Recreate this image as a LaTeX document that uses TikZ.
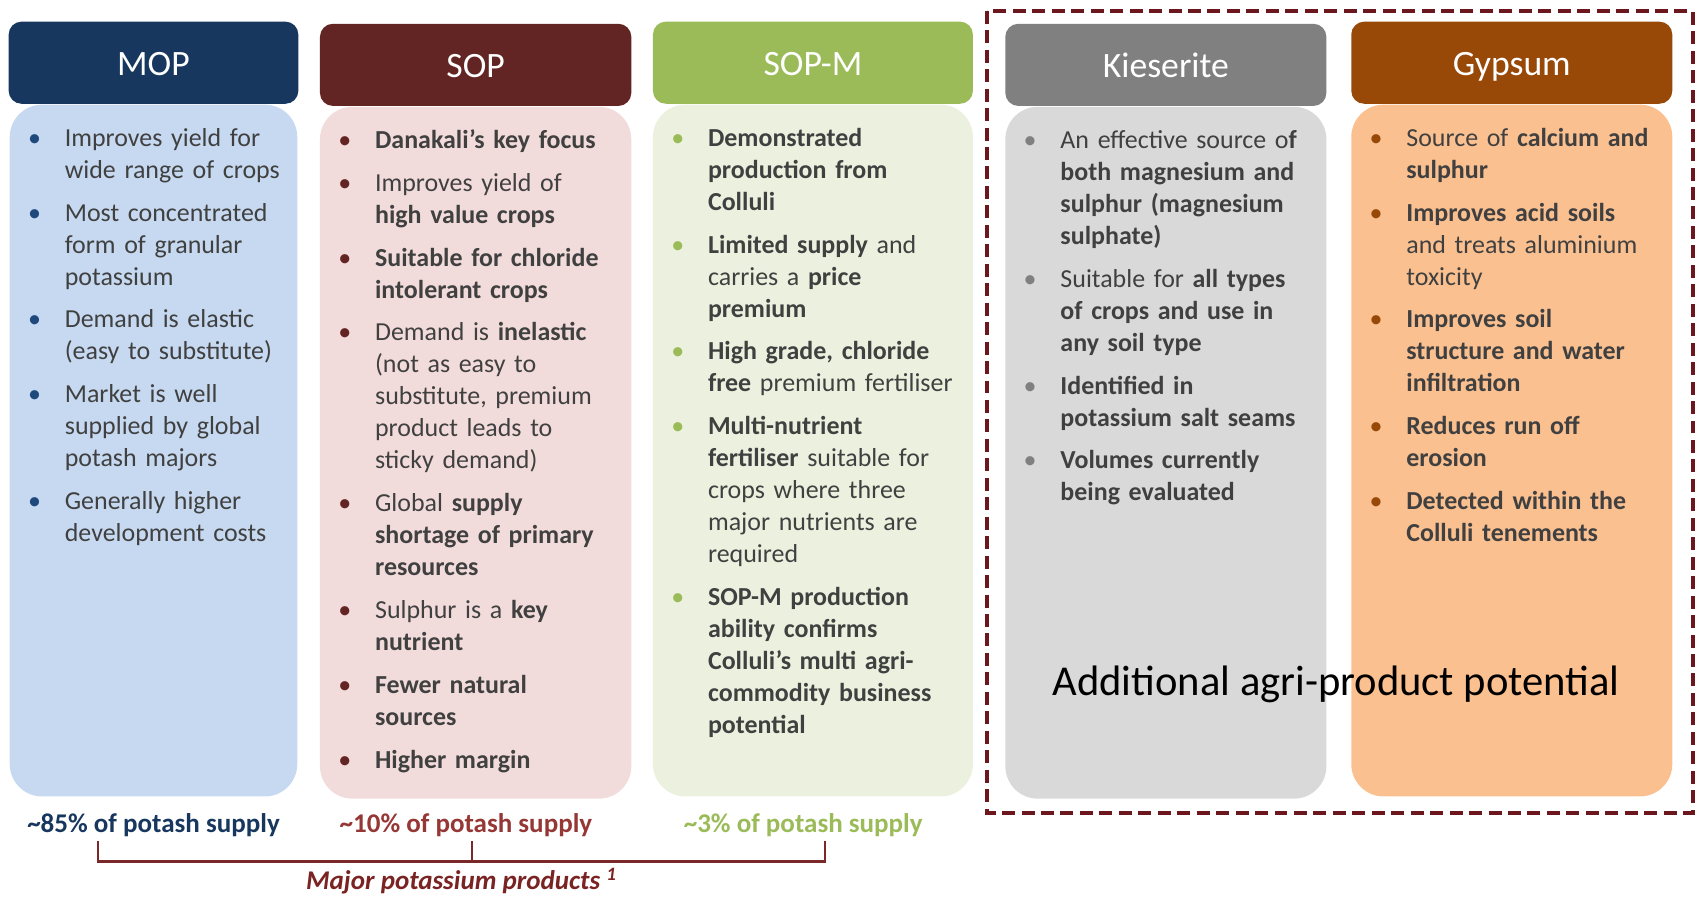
\documentclass[tikz,border=0pt]{standalone}
\usepackage{fontspec}
\setmainfont{Carlito}
\usepackage{enumitem}
\usetikzlibrary{calc, positioning}

\definecolor{mopdark}{RGB}{24,55,94}
\definecolor{moplight}{RGB}{198,217,240}
\definecolor{mopbul}{RGB}{31,73,125}
\definecolor{sopdark}{RGB}{99,37,35}
\definecolor{soplight}{RGB}{242,220,219}
\definecolor{sopsup}{RGB}{149,55,53}
\definecolor{sopmdark}{RGB}{155,187,89}
\definecolor{sopmlight}{RGB}{235,241,222}
\definecolor{kiesdark}{RGB}{128,128,128}
\definecolor{kieslight}{RGB}{217,217,217}
\definecolor{gypdark}{RGB}{152,72,7}
\definecolor{gyplight}{RGB}{250,192,144}
\definecolor{txtgray}{RGB}{64,64,64}
\definecolor{brk}{RGB}{123,40,40}
\definecolor{majcol}{RGB}{122,35,35}
\definecolor{dashcol}{RGB}{108,22,30}
\colorlet{bcol}{black}

\setlist[itemize]{topsep=0pt, partopsep=0pt, parsep=0pt, itemsep=5pt, leftmargin=14pt, labelindent=0pt, labelwidth=0pt, labelsep=14pt, align=left, label=\hbox to 0pt{\hss\textcolor{bcol}{\textbullet}\hss}}

\begin{document}
\begin{tikzpicture}[x=0.5pt, y=-0.5pt]
    \tikzstyle{hdr} = [rectangle, rounded corners=6pt, minimum height=38pt, inner sep=0pt, text=white, text height=14pt, text depth=2pt, font=\fontsize{16.5}{20}\selectfont]
    \tikzstyle{body} = [rectangle, rounded corners=15pt, minimum height=320pt, inner sep=0pt, anchor=north]
    \tikzstyle{txt} = [anchor=north west, text width=160pt, align=left, inner sep=0pt, text=txtgray, font=\fontsize{12}{14.8}\selectfont]
    \tikzstyle{supply} = [anchor=base, inner sep=0pt, font=\fontsize{12.5}{15}\selectfont\bfseries]
    \tikzstyle{line} = [line width=1pt, draw=brk]
    \tikzstyle{dashbox} = [draw=dashcol, line width=1.8pt, dash pattern=on 6pt off 3pt]
    \useasboundingbox (0,0) rectangle (1568,830);
    % Headers
    \node (mophead) [hdr, fill=mopdark, minimum width=134pt] at (142,58) {MOP};
    \node (sophead) [hdr, fill=sopdark, minimum width=144pt] at (440,60) {SOP};
    \node (sopmhead) [hdr, fill=sopmdark, minimum width=148pt] at (752,58) {SOP-M};
    \node (kieshead) [hdr, fill=kiesdark, minimum width=148.5pt] at (1078.5,60) {Kieserite};
    \node (gyphead) [hdr, fill=gypdark, minimum width=148.5pt] at (1398.5,58) {Gypsum};
    % Bodies
    \node (mopbody) [body, fill=moplight, minimum width=133pt] at (mophead.south) {};
    \node (sopbody) [body, fill=soplight, minimum width=144pt] at (sophead.south) {};
    \node (sopmbody) [body, fill=sopmlight, minimum width=148pt] at (sopmhead.south) {};
    \node (kiesbody) [body, fill=kieslight, minimum width=148.5pt] at (kieshead.south) {};
    \node (gypbody) [body, fill=gyplight, minimum width=148.5pt] at (gyphead.south) {};
    % Bullet texts
    \node (moptxt) [txt] at ($(mopbody.north west)+(23,9)$) {\colorlet{bcol}{mopbul}%
    \begin{itemize}
        \item Improves yield for\newline wide range of crops
        \item Most concentrated\newline form of granular\newline potassium
        \item Demand is elastic\newline (easy to substitute)
        \item Market is well\newline supplied by global\newline potash majors
        \item Generally higher\newline development costs
    \end{itemize}};
    \node (soptxt) [txt] at ($(sopbody.north west)+(23,9)$) {\colorlet{bcol}{sopdark}%
    \begin{itemize}
        \item \textbf{Danakali’s key focus}
        \item Improves yield of\newline \textbf{high value crops}
        \item \textbf{Suitable for chloride\newline intolerant crops}
        \item Demand is \textbf{inelastic}\newline (not as easy to\newline substitute, premium\newline product leads to\newline sticky demand)
        \item Global \textbf{supply}\newline \textbf{shortage of primary\newline resources}
        \item Sulphur is a \textbf{key}\newline \textbf{nutrient}
        \item \textbf{Fewer natural\newline sources}
        \item \textbf{Higher margin}
    \end{itemize}};
    \node (sopmtxt) [txt] at ($(sopmbody.north west)+(23,9)$) {\colorlet{bcol}{sopmdark}%
    \begin{itemize}
        \item \textbf{Demonstrated\newline production from\newline Colluli}
        \item \textbf{Limited supply} and\newline carries a \textbf{price}\newline \textbf{premium}
        \item \textbf{High grade, chloride}\newline \textbf{free} premium fertiliser
        \item \textbf{Multi-nutrient}\newline \textbf{fertiliser} suitable for\newline crops where three\newline major nutrients are\newline required
        \item \textbf{SOP-M production\newline ability confirms\newline Colluli’s multi agri-\newline commodity business\newline potential}
    \end{itemize}};
    \node (kiestxt) [txt] at ($(kiesbody.north west)+(23,9)$) {\colorlet{bcol}{kiesdark}%
    \begin{itemize}
        \item An effective source o\textbf{f}\newline \textbf{both magnesium and\newline sulphur (magnesium\newline sulphate)}
        \item Suitable for \textbf{all types}\newline \textbf{of crops and use in\newline any soil type}
        \item \textbf{Identified in\newline potassium salt seams}
        \item \textbf{Volumes currently\newline being evaluated}
    \end{itemize}};
    \node (gyptxt) [txt] at ($(gypbody.north west)+(23,9)$) {\colorlet{bcol}{gypdark}%
    \begin{itemize}
        \item Source of \textbf{calcium and}\newline \textbf{sulphur}
        \item \textbf{Improves acid soils}\newline and treats aluminium\newline toxicity
        \item \textbf{Improves soil\newline structure and water\newline infiltration}
        \item \textbf{Reduces run off\newline erosion}
        \item \textbf{Detected within the\newline Colluli tenements}
    \end{itemize}};
    % Other products frame
    \draw [dashbox] (913,10) rectangle (1566,752);
    \node (addpot) [anchor=base, inner sep=0pt, font=\fontsize{19.7}{24}\selectfont] at (1236,643) {Additional agri-product potential};
    % Supply shares
    \node (mopsup) [supply, text=mopdark] at (142,770) {\textasciitilde 85\% of potash supply};
    \node (sopsup) [supply, text=sopsup] at (431,770) {\textasciitilde 10\% of potash supply};
    \node (sopmsup) [supply, text=sopmdark] at (743,770) {\textasciitilde 3\% of potash supply};
    \coordinate (bl) at (91,778);
    \coordinate (bm) at (437,778);
    \coordinate (br) at (763,778);
    \draw [line] (bl) -- ++(0,19) -| (br);
    \draw [line] (bm) -- ++(0,19);
    \node (major) [anchor=base, inner sep=0pt, text=majcol, font=\fontsize{12.5}{15}\selectfont\bfseries\itshape] at (427,823) {Major potassium products \textsuperscript{1}};
\end{tikzpicture}
\end{document}
